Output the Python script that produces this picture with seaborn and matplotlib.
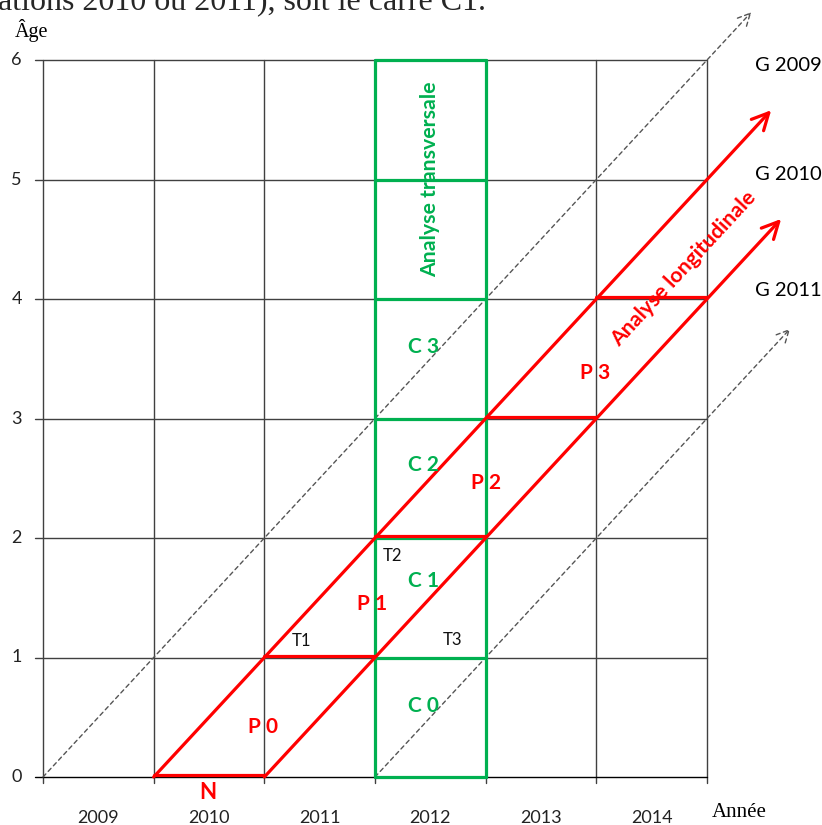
import matplotlib
matplotlib.use("Agg")
import matplotlib.pyplot as plt
import seaborn as sns

# Diagramme de Lexis
years = ["2009", "2010", "2011", "2012", "2013", "2014"]
ages = [0, 1, 2, 3, 4, 5, 6]

# lignes de vie : colonne de naissance, fin de la flèche (en années)
line_births = [0, 1, 2, 3]
line_ends = [6.40, 6.58, 6.67, 6.75]
line_kinds = ["dashed", "red", "red", "dashed"]

cohort_labels = ["G 2009", "G 2010", "G 2011"]
cohort_label_y = [5.95, 5.04, 4.07]

# carrés de l'analyse transversale (année 2012)
transv_col = 3
c_labels = ["C 0", "C 1", "C 2", "C 3"]
c_label_y = [0.59, 1.64, 2.61, 3.60]

# parallélogrammes de l'analyse longitudinale
p_labels = ["P 0", "P 1", "P 2", "P 3"]
p_label_x = [1.99, 2.97, 4.00, 4.99]
p_label_y = [0.42, 1.45, 2.46, 3.38]

t_labels = ["T1", "T2", "T3"]
t_label_x = [2.34, 3.16, 3.70]
t_label_y = [1.14, 1.85, 1.15]

RED = "#FF0000"
GREEN = "#00B050"
GRID = "#404040"

sns.set_theme(style="white")
plt.rcParams["font.family"] = ["Lato", "DejaVu Sans"]


def seg(x, y, **kw):
    # un simple segment, sans agrégation seaborn
    sns.lineplot(x=x, y=y, estimator=None, sort=False, errorbar=None, ax=ax, **kw)


fig = plt.figure(figsize=(8.22, 8.25), dpi=100)
ax = fig.add_axes([0, 0, 1, 1])
ax.set_xlim(-43 / 110.67, (822 - 43) / 110.67)
ax.set_ylim(-48 / 119.5, 777 / 119.5)
ax.axis("off")

ncol = len(years)
top = ages[-1]

# quadrillage
for b in range(ncol + 1):
    seg([b, b], [-0.05, top], color=GRID, lw=1.0, zorder=1)
for a in ages:
    seg([-0.075, ncol], [a, a], color="black" if a == 0 else GRID, lw=1.0, zorder=1)

# étiquettes des axes
for a in ages:
    ax.text(-0.19, a, str(a), ha="right", va="center", fontsize=13, color="#222222")
for i, yr in enumerate(years):
    ax.text(i + 0.5, -0.345, yr, ha="center", va="center", fontsize=13, color="#222222")
ax.text(6.04, -0.30, "Année", ha="left", va="center", fontsize=15,
        family="Liberation Serif", color="black")
ax.text(-0.255, 6.19, "Âge", ha="left", va="baseline", fontsize=14.5,
        family="Liberation Serif", color="black")
fig.text(-0.003, 1 - 10 / 825, "ations 2010 ou 2011), soit le carré C1.",
         ha="left", va="baseline", fontsize=23, family="Liberation Serif")

# lignes de vie
for b, end, kind in zip(line_births, line_ends, line_kinds):
    if kind == "red":
        props = dict(arrowstyle="->", color=RED, lw=2.3, mutation_scale=30,
                     shrinkA=0, shrinkB=0)
        z = 4
    else:
        props = dict(arrowstyle="->", color="#555555", lw=1.0, ls=(0, (3, 2.5)),
                     mutation_scale=22, shrinkA=0, shrinkB=0)
        z = 2
    ax.annotate("", xy=(end, end - b), xytext=(b, 0), arrowprops=props, zorder=z)

# segments horizontaux rouges entre les deux lignes de vie rouges
red_births = [b for b, k in zip(line_births, line_kinds) if k == "red"]
for a in ages[:5]:
    x0 = red_births[0] + a
    x1 = red_births[1] + a
    seg([x0, x1], [a + 0.015, a + 0.015], color=RED, lw=2.3, zorder=4)

# rectangle vert de l'analyse transversale
for xv in [transv_col, transv_col + 1]:
    seg([xv, xv], [0, top], color=GREEN, lw=2.3, zorder=3)
for a in ages:
    seg([transv_col, transv_col + 1], [a, a], color=GREEN, lw=2.3, zorder=3)

# étiquettes
for lab, y in zip(c_labels, c_label_y):
    ax.text(transv_col + 0.44, y, lab, color=GREEN, fontsize=15, fontweight="bold",
            ha="center", va="center", zorder=6)
for lab, x, y in zip(p_labels, p_label_x, p_label_y):
    ax.text(x, y, lab, color=RED, fontsize=15, fontweight="bold",
            ha="center", va="center", zorder=6)
for lab, x, y in zip(t_labels, t_label_x, t_label_y):
    ax.text(x, y, lab, color="#111111", fontsize=12, ha="center", va="center", zorder=6)
ax.text(red_births[0] + 0.49, -0.13, "N", color=RED, fontsize=16, fontweight="bold",
        ha="center", va="center")

ax.text(transv_col + 0.5, 5.0, "Analyse transversale", color=GREEN, fontsize=15.3,
        fontweight="bold", rotation=90, ha="center", va="center", zorder=6)
ax.text(5.79, 4.25, "Analyse longitudinale", color=RED, fontsize=15.3,
        fontweight="bold", rotation=47.2, rotation_mode="anchor",
        ha="center", va="center", zorder=6)

for lab, y in zip(cohort_labels, cohort_label_y):
    ax.text(6.43, y, lab, fontsize=14.5, ha="left", va="center", color="black")

fig.savefig("out.png", dpi=100)
